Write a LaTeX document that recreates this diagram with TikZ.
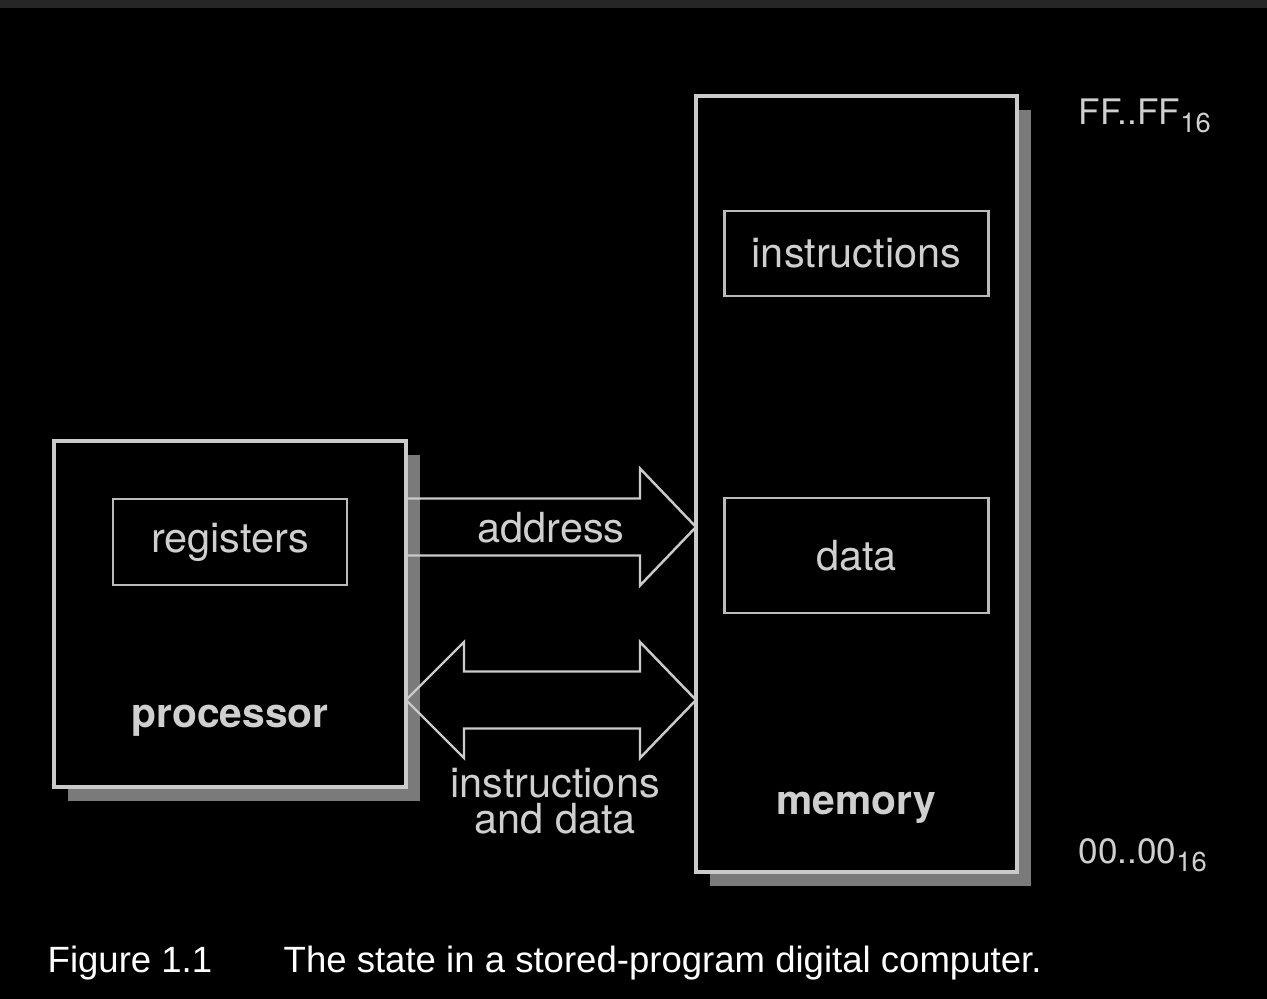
\documentclass[tikz,border=0pt]{standalone}
\usepackage{fontspec}
\setmainfont{TeX Gyre Heros}
\newfontfamily\captionfont{Liberation Sans}
\usepackage{tikz}
\usetikzlibrary{positioning,shadows,calc}
\definecolor{DEFINE_BAR_COLOR}{HTML}{262626}
\definecolor{DEFINE_LINE_COLOR}{HTML}{CACACA}
\definecolor{DEFINE_BOX_COLOR}{HTML}{BBBBBB}
\definecolor{DEFINE_SHD_COLOR}{HTML}{7A7A7A}
\definecolor{DEFINE_TXT_COLOR}{HTML}{CFCFCF}
\newcommand{\hexsub}[1]{{\fontsize{7.8}{8}\selectfont\raisebox{-0.8mm}{#1}}}
\tikzstyle{unit} = [rectangle, draw=DEFINE_LINE_COLOR, line width=0.9pt, fill=black, outer sep=0pt,
  drop shadow={shadow xshift=0.14cm, shadow yshift=-0.14cm, fill=DEFINE_SHD_COLOR, opacity=1}]
\tikzstyle{cell} = [rectangle, draw=DEFINE_BOX_COLOR, line width=0.75pt, outer sep=0pt,
  text=DEFINE_TXT_COLOR, font=\fontsize{11.8}{11.6}\selectfont]
\tikzstyle{tag} = [inner sep=0pt, text=DEFINE_TXT_COLOR, font=\fontsize{11.8}{10.2}\selectfont]
\tikzstyle{bold_tag} = [tag, font=\fontsize{11.6}{11.6}\selectfont\bfseries]
\tikzstyle{addr_tag} = [tag, font=\fontsize{10}{12}\selectfont]
\tikzstyle{caption} = [inner sep=0pt, text=white, font=\captionfont\fontsize{10.4}{12}\selectfont]
\tikzstyle{bus} = [draw=DEFINE_LINE_COLOR, line width=0.7pt, line join=miter]
\tikzstyle{MEM_LAYER} = [unit, minimum width=3.21cm, minimum height=7.76cm]
\tikzstyle{PRC_LAYER} = [unit, minimum width=3.52cm, minimum height=3.46cm, below left= 1.30cm and 2.90cm of MEM.west, anchor=east]
\tikzstyle{INS_LAYER} = [cell, minimum width=2.64cm, minimum height=0.85cm, below= 1.15cm of MEM.north, anchor=north]
\tikzstyle{DAT_LAYER} = [cell, minimum width=2.64cm, minimum height=1.15cm, below= 2.02cm of INS.south, anchor=north]
\tikzstyle{REG_LAYER} = [cell, minimum width=2.34cm, minimum height=0.86cm, below= 0.58cm of PRC.north, anchor=north]

\begin{document}
\begin{tikzpicture}
      \useasboundingbox (0,0) rectangle (12.67,-9.99);
      \fill[black] (0,0) rectangle (12.67,-9.99);
      \fill[DEFINE_BAR_COLOR] (0,0) rectangle (12.67,-0.085);

      %%%%%%%%%%%%%%%%%%%%%%%%%%%%%%%%%%%%%%%%%%%%%%%%%
      % MEMORY + PROCESSOR
      %%%%%%%%%%%%%%%%%%%%%%%%%%%%%%%%%%%%%%%%%%%%%%%%%
      \node[MEM_LAYER] (MEM) at (8.565,-4.84) {};
      \node[PRC_LAYER] (PRC) {};
      \node[INS_LAYER] (INS) {instructions};
      \node[DAT_LAYER] (DAT) {data};
      \node[REG_LAYER] (REG) {registers};
      \node[bold_tag, above= 0.60cm of PRC.south, anchor=base] (PRC_T) {processor};
      \node[bold_tag, above= 0.58cm of MEM.south, anchor=base] (MEM_T) {memory};

      %%%%%%%%%%%%%%%%%%%%%%%%%%%%%%%%%%%%%%%%%%%%%%%%%
      % ADDRESS RANGE
      %%%%%%%%%%%%%%%%%%%%%%%%%%%%%%%%%%%%%%%%%%%%%%%%%
      \node[addr_tag, below right= 0.29cm and 0.61cm of MEM.north east, anchor=base west] (TOP) {FF..FF\hexsub{16}};
      \node[addr_tag, above right= 0.09cm and 0.61cm of MEM.south east, anchor=base west] (BOT) {00..00\hexsub{16}};

      %%%%%%%%%%%%%%%%%%%%%%%%%%%%%%%%%%%%%%%%%%%%%%%%%
      % BUSES
      %%%%%%%%%%%%%%%%%%%%%%%%%%%%%%%%%%%%%%%%%%%%%%%%%
      \coordinate[below= 0.86cm of PRC.north east] (A0);
      \coordinate (A1) at (A0 -| MEM.west);
      \draw[bus] ($(A0)+(0,0.285)$) -| ($(A1)+(-0.56,0.585)$) -- (A1)
        -- ($(A1)+(-0.56,-0.585)$) |- ($(A0)+(0,-0.285)$);
      \node[tag, below left= 0.15cm and 1.45cm of A1, anchor=base] (ADR) {address};

      \coordinate[below= 2.59cm of PRC.north east] (B0);
      \coordinate (B1) at (B0 -| MEM.west);
      \draw[bus] (B0) -- ($(B0)+(0.58,0.58)$) |- ($(B1)+(-0.56,0.285)$) -- ($(B1)+(-0.56,0.58)$)
        -- (B1) -- ($(B1)+(-0.56,-0.58)$) |- ($(B0)+(0.58,-0.285)$) -- ($(B0)+(0.58,-0.58)$) -- cycle;
      \node[tag, align=center, below left= 1.33cm and 1.41cm of B1, anchor=base] (IAD) {instructions\\and data};

      %%%%%%%%%%%%%%%%%%%%%%%%%%%%%%%%%%%%%%%%%%%%%%%%%
      % CAPTION
      %%%%%%%%%%%%%%%%%%%%%%%%%%%%%%%%%%%%%%%%%%%%%%%%%
      \node[caption, below left= 1.85cm and 0.07cm of PRC.south west, anchor=base west] (FIG) {Figure 1.1};
      \node[caption, right= 2.36cm of FIG.base west, anchor=base west] (CAP) {The state in a stored-program digital computer.};
\end{tikzpicture}
\end{document}
